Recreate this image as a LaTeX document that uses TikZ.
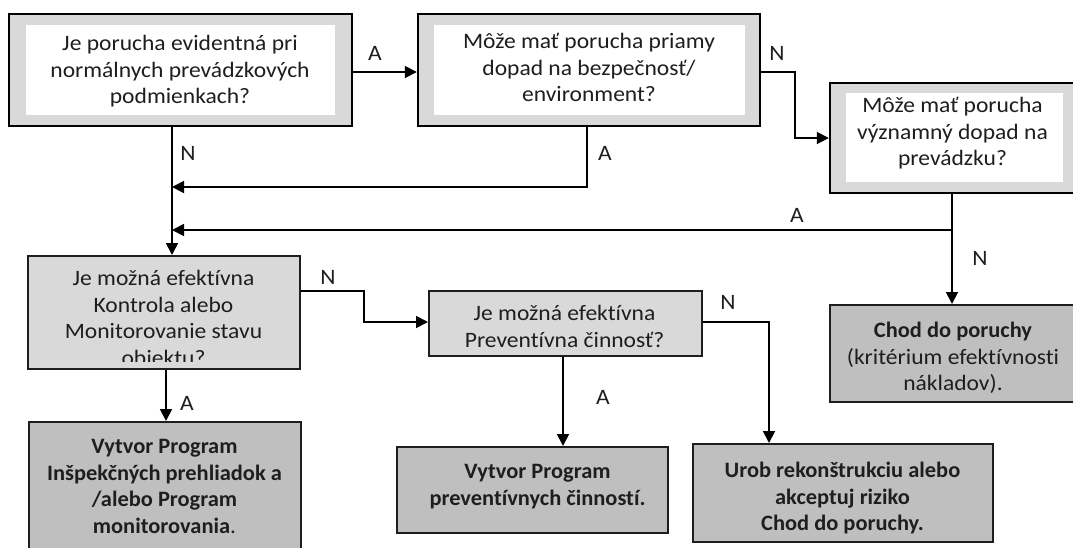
\documentclass[tikz,border=0pt]{standalone}
\usepackage{fontspec}
\setmainfont{Carlito}[Ligatures=NoCommon,UprightFeatures={FakeStretch=1.07},BoldFeatures={FakeStretch=1.02}]
\usetikzlibrary{arrows.meta}
\definecolor{framegray}{RGB}{217,217,217}
\definecolor{boxgray}{RGB}{191,191,191}
\definecolor{ink}{RGB}{30,30,30}
\newcommand\topstrut{\rule{0pt}{18pt}}

\begin{document}
\begin{tikzpicture}[x=1pt,y=-1pt,
  font=\fontsize{22}{26.8}\selectfont,
  qframe/.style={draw=black,line width=2.4pt,fill=framegray,inner sep=0pt},
  qinner/.style={fill=white,inner sep=0pt},
  lightbox/.style={draw=ink,line width=2pt,fill=framegray,inner sep=0pt},
  darkbox/.style={draw=ink,line width=2pt,fill=boxgray,inner sep=0pt},
  boxtext/.style={anchor=north,inner sep=0pt,align=center,text=ink},
  flow/.style={line width=1.8pt,-{Triangle[length=12pt,width=12pt]}},
  lbl/.style={inner sep=0pt,text=ink}]
\useasboundingbox (0,0) rectangle (1073,547);

% question boxes: grey frame with white text field
\node[qframe,minimum width=343pt,minimum height=112pt] (q1) at (180.5,70) {};
\node[qinner,minimum width=309pt,minimum height=90pt] (q1in) at (180.5,70) {};
\node[boxtext] (q1t) at (180,32) {\topstrut Je porucha evidentná pri\\normálnych prevádzkových\\podmienkach?};

\node[qframe,minimum width=342pt,minimum height=112pt] (q2) at (589,70) {};
\node[qinner,minimum width=311pt,minimum height=90pt] (q2in) at (589,70) {};
\node[boxtext] (q2t) at (589,30) {\topstrut Môže mať porucha priamy\\dopad na bezpečnosť/\\environment?};

\node[qframe,minimum width=270pt,minimum height=110pt] (q3) at (965,138) {};
\node[qinner,minimum width=217pt,minimum height=89pt] (q3in) at (954.5,137.5) {};
\node[boxtext] (q3t) at (952.5,94) {\topstrut Môže mať porucha\\významný dopad na\\prevádzku?};

% second-level questions, text clipped by the box
\node[lightbox,minimum width=272pt,minimum height=113pt] (b4) at (164,312.5) {};
\begin{scope}
  \clip (b4.north west) rectangle ([yshift=9pt]b4.south east);
  \node[boxtext] (b4t) at (163.5,267) {\topstrut Je možná efektívna\\Kontrola alebo\\Monitorovanie stavu\\objektu?};
\end{scope}

\node[lightbox,minimum width=273pt,minimum height=65pt] (b5) at (565.5,323.5) {};
\begin{scope}
  \clip (b5.north west) rectangle ([yshift=9pt]b5.south east);
  \node[boxtext] (b5t) at (564.5,302) {\topstrut Je možná efektívna\\Preventívna činnosť?};
\end{scope}

% outcome boxes
\node[darkbox,minimum width=272pt,minimum height=150pt] (b8) at (165,497) {};
\node[boxtext] (b8t) at (164.5,435) {\topstrut\bfseries Vytvor Program\\\bfseries Inšpekčných prehliadok a\\\bfseries /alebo Program\\\bfseries monitorovania\mdseries.};

\node[darkbox,minimum width=271pt,minimum height=86pt] (b6) at (532.5,490) {};
\node[boxtext] (b6t) at (537.5,460) {\topstrut\bfseries Vytvor Program\\\bfseries preventívnych činností.};

\node[darkbox,minimum width=300pt,minimum height=98pt] (b7) at (843,493) {};
\node[boxtext] (b7t) at (842.5,459) {\topstrut\bfseries Urob rekonštrukciu alebo\\\bfseries akceptuj riziko\\\bfseries Chod do poruchy.};

\node[darkbox,minimum width=270pt,minimum height=97pt] (b9) at (965,353.5) {};
\node[boxtext] (b9t) at (953,319) {\topstrut\bfseries Chod do poruchy\\(kritérium efektívnosti\\nákladov).};

% connectors
\draw[flow] (q1.east |- 0,72) -- (q2.west |- 0,72);
\node[lbl] (la1) at (375,53) {A};

\coordinate (n2a) at (795,72);
\coordinate (n2b) at (795,138);
\draw[flow] (q2.east |- n2a) -- (n2a) -- (n2b) -- (q3.west |- n2b);
\node[lbl] (ln2) at (777,53) {N};

\coordinate (j1) at (172,187);
\coordinate (j2) at (172,230);
\draw[flow] (q1.south -| j1) -- (b4.north -| j1);
\node[lbl] (ln1) at (188,153) {N};

\coordinate (a2) at (587,187);
\draw[flow] (q2.south -| a2) -- (a2) -- (j1);
\node[lbl] (la2) at (605,153) {A};

\coordinate (a3) at (952,230);
\draw[flow] (q3.south -| a3) -- (b9.north -| a3);
\draw[flow] (a3) -- (j2);
\node[lbl] (la3) at (797,215) {A};
\node[lbl] (ln3) at (980,258) {N};

\coordinate (n4a) at (364,291);
\coordinate (n4b) at (364,322);
\draw[flow] (b4.east |- n4a) -- (n4a) -- (n4b) -- (b5.west |- n4b);
\node[lbl] (ln4) at (328,277) {N};

\coordinate (a4) at (166,369);
\draw[flow] (b4.south -| a4) -- (b8.north -| a4);
\node[lbl] (la4) at (187,403) {A};

\coordinate (n5) at (769,322);
\draw[flow] (b5.east |- n5) -- (n5) -- (b7.north -| n5);
\node[lbl] (ln5) at (728,302) {N};

\coordinate (a5) at (563,356);
\draw[flow] (b5.south -| a5) -- (b6.north -| a5);
\node[lbl] (la5) at (603,397) {A};
\end{tikzpicture}
\end{document}
